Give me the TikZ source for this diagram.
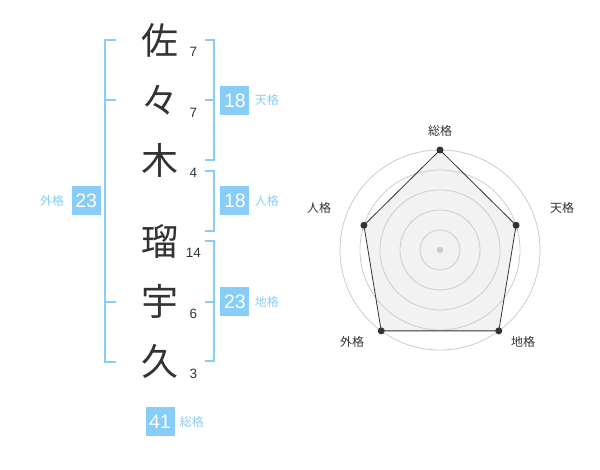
\documentclass[tikz,border=0pt]{standalone}
\usepackage{fontspec}
\usepackage{xcolor}
\usepackage{tikz}
\usetikzlibrary{positioning}
\newfontfamily\kanfont{Noto Sans CJK JP}
\newfontfamily\numfont{Liberation Sans}
\definecolor{sei-blue}{RGB}{136,204,248}
\definecolor{ink}{RGB}{51,51,51}
\definecolor{ring}{RGB}{204,204,204}
\definecolor{area}{RGB}{242,242,242}

\begin{document}
\begin{tikzpicture}
[
x=1pt, y=1pt,
kan-a/.style={inner sep=0pt, minimum width=40pt, minimum height=60pt, text=ink, font=\kanfont\fontsize{37}{37}\selectfont},
num-a/.style={inner sep=0pt, minimum width=26pt, text=ink, font=\numfont\fontsize{13.5}{13.5}\selectfont},
box-a/.style={fill=sei-blue, text=white, inner sep=0pt, minimum size=29pt, font=\numfont\fontsize{19.5}{19.5}\selectfont},
text-a/.style={inner sep=0pt, text=sei-blue, font=\kanfont\fontsize{12}{12}\selectfont},
text-b/.style={inner sep=0pt, text=ink, font=\kanfont\fontsize{12}{12}\selectfont},
brac-a/.style={draw=sei-blue, line width=2pt},
ring-a/.style={draw=ring, line width=0.8pt}
]
\useasboundingbox (0,0) rectangle (600,470);
% name column
\node (kan-1) [kan-a] at (160,430)             {佐};
\node (kan-2) [kan-a, below = 00.00pt of kan-1] {々};
\node (kan-3) [kan-a, below = 00.00pt of kan-2] {木};
\node (kan-4) [kan-a, below = 20.00pt of kan-3] {瑠};
\node (kan-5) [kan-a, below = 00.00pt of kan-4] {宇};
\node (kan-6) [kan-a, below = 00.00pt of kan-5] {久};
\node (num-1) [num-a, right = 00.00pt of kan-1, yshift=-12pt] {7};
\node (num-2) [num-a, right = 00.00pt of kan-2, yshift=-12pt] {7};
\node (num-3) [num-a, right = 00.00pt of kan-3, yshift=-12pt] {4};
\node (num-4) [num-a, right = 00.00pt of kan-4, yshift=-12pt] {14};
\node (num-5) [num-a, right = 00.00pt of kan-5, yshift=-12pt] {6};
\node (num-6) [num-a, right = 00.00pt of kan-6, yshift=-12pt] {3};
% brackets
\draw[brac-a] ([xshift=-44pt]kan-1.center) -| ([xshift=-55pt]kan-6.center) -- ([xshift=-44pt]kan-6.center);
\draw[brac-a] ([xshift=-55pt]kan-2.center) -- ([xshift=-44pt]kan-2.center);
\draw[brac-a] ([xshift=-55pt]kan-5.center) -- ([xshift=-44pt]kan-5.center);
\draw[brac-a] ([xshift=45pt]kan-1.center) -| ([xshift=54pt,yshift=1pt]kan-3.center) -- ([xshift=45pt,yshift=1pt]kan-3.center);
\draw[brac-a] ([xshift=45pt]kan-2.center) -- ([xshift=54pt]kan-2.center);
\draw[brac-a] ([xshift=45pt,yshift=-10pt]kan-3.center) -| ([xshift=54pt,yshift=10pt]kan-4.center) -- ([xshift=45pt,yshift=10pt]kan-4.center);
\draw[brac-a] ([xshift=45pt]kan-4.center) -| ([xshift=54pt,yshift=1pt]kan-6.center) -- ([xshift=45pt,yshift=1pt]kan-6.center);
\draw[brac-a] ([xshift=45pt]kan-5.center) -- ([xshift=54pt]kan-5.center);
% scores
\node (ten-box) [box-a, right = 40.00pt of kan-2]               {18};
\node (ten-lab) [text-a, right = 05.00pt of ten-box]            {天格};
\node (jin-box) [box-a, right = 40.00pt of kan-3, yshift=-40pt] {18};
\node (jin-lab) [text-a, right = 05.00pt of jin-box]            {人格};
\node (chi-box) [box-a, right = 40.00pt of kan-5]               {23};
\node (chi-lab) [text-a, right = 05.00pt of chi-box]            {地格};
\node (gai-box) [box-a, left  = 39.00pt of kan-3, yshift=-40pt] {23};
\node (gai-lab) [text-a, left  = 07.00pt of gai-box]            {外格};
\node (sou-box) [box-a, below = 15.00pt of kan-6]               {41};
\node (sou-lab) [text-a, right = 05.00pt of sou-box]            {総格};
% radar
\begin{scope}[shift={(440,220)}]
\coordinate (pt-sou) at (90:100pt);
\coordinate (pt-ten) at (18:80pt);
\coordinate (pt-chi) at (-54:100pt);
\coordinate (pt-gai) at (234:100pt);
\coordinate (pt-jin) at (162:80pt);
\fill[area] (pt-sou) -- (pt-ten) -- (pt-chi) -- (pt-gai) -- (pt-jin) -- cycle;
\foreach \r in {20,40,60,80,100}
  \draw[ring-a] (0,0) circle (\r pt);
\draw[ink, line width=0.8pt] (pt-sou) -- (pt-ten) -- (pt-chi) -- (pt-gai) -- (pt-jin) -- cycle;
\foreach \p in {pt-sou,pt-ten,pt-chi,pt-gai,pt-jin}
  \fill[ink] (\p) circle (3.5pt);
\fill[ring] (0,0) circle (3.3pt);
\node (lab-sou) [text-b] at (0,119)    {総格};
\node (lab-ten) [text-b] at (122,42)   {天格};
\node (lab-jin) [text-b] at (-121,42)  {人格};
\node (lab-gai) [text-b] at (-88,-92)  {外格};
\node (lab-chi) [text-b] at (83,-92)   {地格};
\end{scope}
\end{tikzpicture}
\end{document}
